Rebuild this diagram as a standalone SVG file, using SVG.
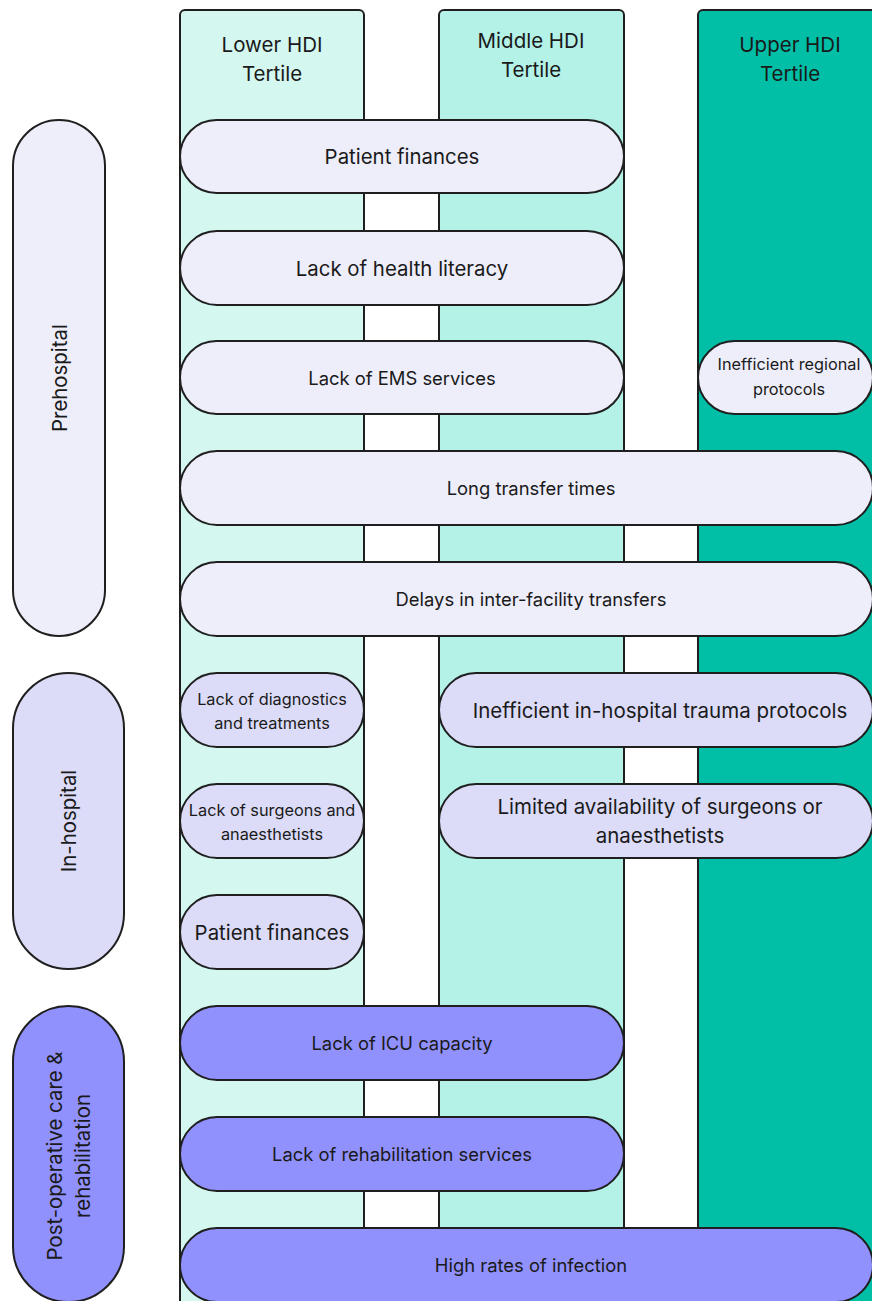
<svg xmlns="http://www.w3.org/2000/svg" width="872" height="1301" viewBox="0 0 872 1301">
<style>
.col{stroke:#1f1f1f;stroke-width:2}
.p{stroke:#1f1f1f;stroke-width:2}
.pre{fill:#eeeefb}
.inh{fill:#dcdcf8}
.post{fill:#9191fd}
text{font-family:Inter,"Liberation Sans",sans-serif;fill:#1a1a1a;text-anchor:middle}
.h{font-size:20.5px}
.t18{font-size:20.4px}
.t16{font-size:18.4px}
.t14{font-size:16.3px}
.t19{font-size:20.5px}
</style>
<rect width="872" height="1301" fill="#ffffff"/>
<g id="columns">
<g id="col-lower"><rect class="col" x="180" y="10" width="184" height="1310" rx="5" fill="#d4f7f0"/>
<text class="h" x="272" y="52">Lower HDI</text><text class="h" x="272" y="81">Tertile</text></g>
<g id="col-middle"><rect class="col" x="439" y="10" width="185" height="1310" rx="5" fill="#b4f2e8"/>
<text class="h" x="531" y="48">Middle HDI</text><text class="h" x="531" y="77">Tertile</text></g>
<g id="col-upper"><rect class="col" x="698" y="10" width="190" height="1310" rx="5" fill="#00bfa6"/>
<text class="h" x="790" y="52">Upper HDI</text><text class="h" x="790" y="81">Tertile</text></g>
</g>
<g id="phases">
<g id="phase-prehospital"><rect class="p pre" x="13" y="120" width="92" height="516" rx="46"/>
<text class="t18" transform="translate(59,378) rotate(-90)" dominant-baseline="central">Prehospital</text></g>
<g id="phase-inhospital"><rect class="p inh" x="13" y="673" width="111" height="296" rx="55.5"/>
<text class="t18" transform="translate(68.5,821) rotate(-90)" dominant-baseline="central">In-hospital</text></g>
<g id="phase-post"><rect class="p post" x="13" y="1006" width="111" height="296" rx="55.5"/>
<text class="t18" transform="translate(68.5,1156) rotate(-90)"><tspan x="0" y="-7">Post-operative care &amp;</tspan><tspan x="0" y="21">rehabilitation</tspan></text></g>
</g>
<g id="connectors"></g>
<g id="barriers">
<g id="b1"><rect class="p pre" x="180" y="120" width="444" height="73" rx="36.5"/><text class="t18" x="402" y="156.5" dominant-baseline="central">Patient finances</text></g>
<g id="b2"><rect class="p pre" x="180" y="231" width="444" height="74" rx="37"/><text class="t18" x="402" y="268" dominant-baseline="central">Lack of health literacy</text></g>
<g id="b3"><rect class="p pre" x="180" y="341" width="444" height="73" rx="36.5"/><text class="t16" x="402" y="377.5" dominant-baseline="central">Lack of EMS services</text></g>
<g id="b4"><rect class="p pre" x="698" y="341" width="175" height="73" rx="36.5"/><text class="t14" x="789" y="370">Inefficient regional</text><text class="t14" x="789" y="395">protocols</text></g>
<g id="b5"><rect class="p pre" x="180" y="451" width="693" height="74" rx="37"/><text class="t16" x="531" y="488" dominant-baseline="central">Long transfer times</text></g>
<g id="b6"><rect class="p pre" x="180" y="562" width="693" height="74" rx="37"/><text class="t16" x="531" y="599" dominant-baseline="central">Delays in inter-facility transfers</text></g>
<g id="b7"><rect class="p inh" x="180" y="673" width="184" height="74" rx="37"/><text class="t14" x="272" y="705">Lack of diagnostics</text><text class="t14" x="272" y="729">and treatments</text></g>
<g id="b8"><rect class="p inh" x="439" y="673" width="434" height="74" rx="37"/><text class="t19" x="660" y="710" dominant-baseline="central">Inefficient in-hospital trauma protocols</text></g>
<g id="b9"><rect class="p inh" x="180" y="784" width="184" height="74" rx="37"/><text class="t14" x="272" y="816">Lack of surgeons and</text><text class="t14" x="272" y="840">anaesthetists</text></g>
<g id="b10"><rect class="p inh" x="439" y="784" width="434" height="74" rx="37"/><text class="t19" x="660" y="814">Limited availability of surgeons or</text><text class="t19" x="660" y="843">anaesthetists</text></g>
<g id="b11"><rect class="p inh" x="180" y="895" width="184" height="74" rx="37"/><text class="t18" x="272" y="932" dominant-baseline="central">Patient finances</text></g>
<g id="b12"><rect class="p post" x="180" y="1006" width="444" height="74" rx="37"/><text class="t16" x="402" y="1043" dominant-baseline="central">Lack of ICU capacity</text></g>
<g id="b13"><rect class="p post" x="180" y="1117" width="444" height="74" rx="37"/><text class="t16" x="402" y="1154" dominant-baseline="central">Lack of rehabilitation services</text></g>
<g id="b14"><rect class="p post" x="180" y="1228" width="693" height="74" rx="37"/><text class="t16" x="531" y="1265" dominant-baseline="central">High rates of infection</text></g>
</g>
</svg>
